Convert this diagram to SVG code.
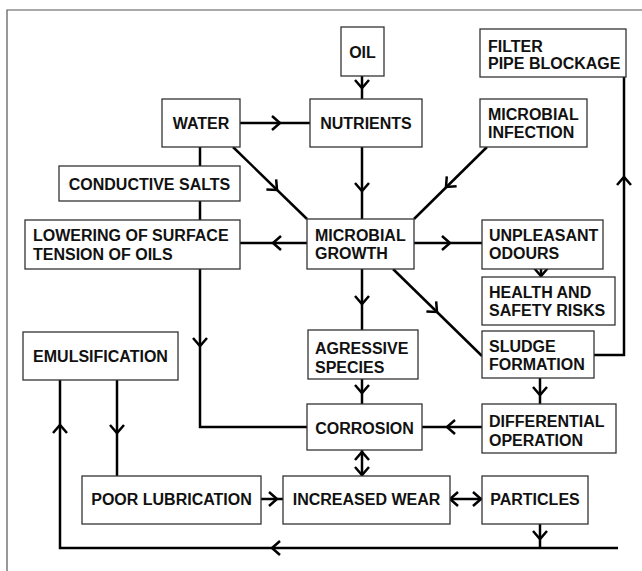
<svg xmlns="http://www.w3.org/2000/svg" xmlns:xlink="http://www.w3.org/1999/xlink" width="642" height="571" viewBox="0 0 642 571">
<style>
.box{fill:#fff;stroke:#333;stroke-width:1.3}
.t{font-family:"Liberation Sans",Arial,sans-serif;font-weight:bold;font-size:16px;fill:#111}
.c{text-anchor:middle}
.ln{fill:none;stroke:#000;stroke-width:2.5;stroke-linejoin:miter}
.ch{fill:none;stroke:#000;stroke-width:2.5;stroke-linejoin:miter}
.frame{fill:none;stroke:#555;stroke-width:1.2}
</style>
<defs>
<path id="chev" class="ch" d="M-8,-7 L0,0 L-8,7"/>
</defs>
<rect x="0" y="0" width="642" height="571" fill="#fff"/>
<polyline class="frame" points="7,571 7,10 642,10"/>

<g id="connectors">
<line class="ln" x1="362" y1="76" x2="362" y2="99"/>
<line class="ln" x1="240" y1="123" x2="310" y2="123"/>
<line class="ln" x1="362" y1="147" x2="362" y2="219"/>
<line class="ln" x1="233" y1="147" x2="307" y2="219"/>
<line class="ln" x1="487" y1="147" x2="414" y2="219"/>
<line class="ln" x1="200" y1="147" x2="200" y2="166"/>
<line class="ln" x1="200" y1="201" x2="200" y2="220"/>
<line class="ln" x1="307" y1="243" x2="240" y2="243"/>
<line class="ln" x1="414" y1="243" x2="482" y2="243"/>
<line class="ln" x1="541" y1="269" x2="541" y2="277"/>
<line class="ln" x1="393" y1="269" x2="482" y2="356"/>
<polyline class="ln" points="594,355 624,355 624,77"/>
<line class="ln" x1="362" y1="269" x2="362" y2="330"/>
<line class="ln" x1="362" y1="379" x2="362" y2="404"/>
<polyline class="ln" points="200,269 200,427 307,427"/>
<line class="ln" x1="540" y1="378" x2="540" y2="404"/>
<line class="ln" x1="482" y1="427" x2="422" y2="427"/>
<line class="ln" x1="362" y1="450" x2="362" y2="476"/>
<line class="ln" x1="261" y1="499" x2="283" y2="499"/>
<line class="ln" x1="450" y1="499" x2="482" y2="499"/>
<line class="ln" x1="540" y1="524" x2="540" y2="548"/>
<polyline class="ln" points="618,548 60,548 60,380"/>
<line class="ln" x1="117" y1="380" x2="117" y2="476"/>

<use xlink:href="#chev" transform="translate(362,88) rotate(90)"/>
<use xlink:href="#chev" transform="translate(280,123)"/>
<use xlink:href="#chev" transform="translate(362,191) rotate(90)"/>
<use xlink:href="#chev" transform="translate(277,190) rotate(44.2)"/>
<use xlink:href="#chev" transform="translate(446,187) rotate(135.4)"/>
<use xlink:href="#chev" transform="translate(273,243) rotate(180)"/>
<use xlink:href="#chev" transform="translate(450,243)"/>
<use xlink:href="#chev" transform="translate(541,276) rotate(90)"/>
<use xlink:href="#chev" transform="translate(437,312) rotate(44.3)"/>
<use xlink:href="#chev" transform="translate(624,177) rotate(-90)"/>
<use xlink:href="#chev" transform="translate(362,304) rotate(90)"/>
<use xlink:href="#chev" transform="translate(362,393) rotate(90)"/>
<use xlink:href="#chev" transform="translate(200,346) rotate(90)"/>
<use xlink:href="#chev" transform="translate(540,395) rotate(90)"/>
<use xlink:href="#chev" transform="translate(447,427) rotate(180)"/>
<use xlink:href="#chev" transform="translate(362,452) rotate(-90)"/>
<use xlink:href="#chev" transform="translate(362,475) rotate(90)"/>
<use xlink:href="#chev" transform="translate(277,499)"/>
<use xlink:href="#chev" transform="translate(450,499) rotate(180)"/>
<use xlink:href="#chev" transform="translate(481,499)"/>
<use xlink:href="#chev" transform="translate(540,539) rotate(90)"/>
<use xlink:href="#chev" transform="translate(272,548) rotate(180)"/>
<use xlink:href="#chev" transform="translate(60,425) rotate(-90)"/>
<use xlink:href="#chev" transform="translate(117,433) rotate(90)"/>
</g>

<g id="oil"><rect class="box" x="341" y="27" width="43" height="49"/><text class="t c" x="362.5" y="58">OIL</text></g>
<g id="water"><rect class="box" x="162" y="99" width="78" height="48"/><text class="t c" x="201" y="129">WATER</text></g>
<g id="nutrients"><rect class="box" x="310" y="99" width="112" height="48"/><text class="t c" x="366" y="129">NUTRIENTS</text></g>
<g id="filter"><rect class="box" x="480" y="29" width="146" height="48"/><text class="t" x="488" y="52">FILTER</text><text class="t" x="488" y="69">PIPE BLOCKAGE</text></g>
<g id="infection"><rect class="box" x="480" y="99" width="107" height="48"/><text class="t" x="488" y="120">MICROBIAL</text><text class="t" x="488" y="138">INFECTION</text></g>
<g id="conductive"><rect class="box" x="59" y="166" width="181" height="35"/><text class="t c" x="149.5" y="190">CONDUCTIVE SALTS</text></g>
<g id="lowering"><rect class="box" x="25" y="220" width="215" height="49"/><text class="t" x="33" y="241">LOWERING OF SURFACE</text><text class="t" x="33" y="260">TENSION OF OILS</text></g>
<g id="growth"><rect class="box" x="307" y="219" width="107" height="50"/><text class="t" x="315" y="241">MICROBIAL</text><text class="t" x="315" y="259">GROWTH</text></g>
<g id="odours"><rect class="box" x="482" y="220" width="121" height="49"/><text class="t" x="489" y="241">UNPLEASANT</text><text class="t" x="489" y="259">ODOURS</text></g>
<g id="health"><rect class="box" x="482" y="277" width="133" height="48"/><text class="t" x="489" y="298">HEALTH AND</text><text class="t" x="489" y="316">SAFETY RISKS</text></g>
<g id="emulsification"><rect class="box" x="23" y="332" width="155" height="48"/><text class="t c" x="100.5" y="362">EMULSIFICATION</text></g>
<g id="agressive"><rect class="box" x="308" y="330" width="110" height="49"/><text class="t" x="315" y="354">AGRESSIVE</text><text class="t" x="315" y="373">SPECIES</text></g>
<g id="sludge"><rect class="box" x="482" y="331" width="112" height="47"/><text class="t" x="489" y="352">SLUDGE</text><text class="t" x="489" y="370">FORMATION</text></g>
<g id="corrosion"><rect class="box" x="307" y="404" width="115" height="46"/><text class="t c" x="364.5" y="434">CORROSION</text></g>
<g id="differential"><rect class="box" x="482" y="404" width="134" height="49"/><text class="t" x="489" y="427">DIFFERENTIAL</text><text class="t" x="489" y="446">OPERATION</text></g>
<g id="poor"><rect class="box" x="82" y="476" width="179" height="48"/><text class="t c" x="171.5" y="505">POOR LUBRICATION</text></g>
<g id="wear"><rect class="box" x="283" y="476" width="167" height="48"/><text class="t c" x="366.5" y="505">INCREASED WEAR</text></g>
<g id="particles"><rect class="box" x="482" y="476" width="106" height="48"/><text class="t c" x="535" y="505">PARTICLES</text></g>
</svg>
